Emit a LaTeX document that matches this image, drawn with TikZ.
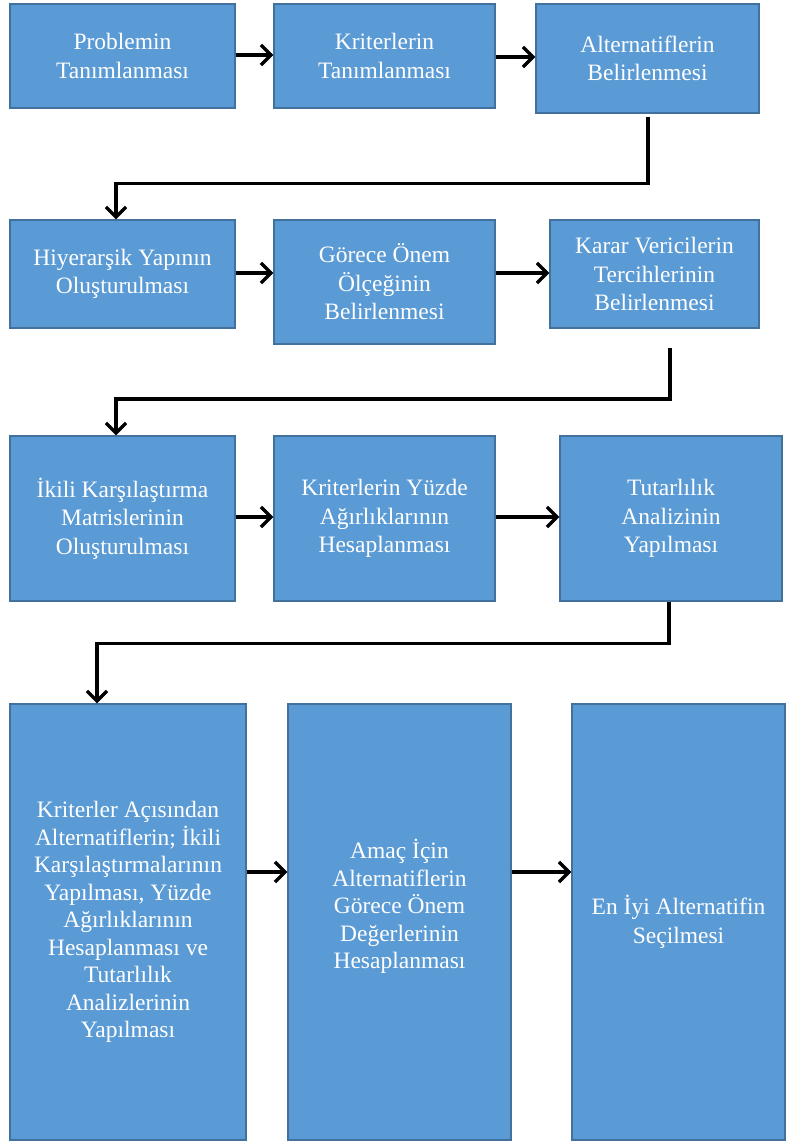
\documentclass[tikz,border=0pt]{standalone}
\usepackage{fontspec}
\setmainfont{Liberation Serif}
\usetikzlibrary{arrows.meta,calc}
\definecolor{boxfill}{HTML}{5B9BD5}
\definecolor{boxline}{HTML}{41719C}
\newcommand{\lift}[2]{\raisebox{#1}[\height][\depth]{#2}}
\begin{document}
\begin{tikzpicture}[x=1pt,y=-1pt,
  flowbox/.style={rectangle, fill=boxfill, draw=boxline, line width=1.3pt,
    inner sep=0pt, text=white, align=center,
    font=\fontsize{23.5}{28.5}\selectfont},
  arr/.style={line width=3.4pt, -{Straight Barb[length=10pt,width=20pt]}},
  link/.style={line width=3.4pt}]
\useasboundingbox (0,0) rectangle (785,1143);

\node[flowbox, minimum width=225pt, minimum height=104pt] (b1) at (122.5,56) {Problemin\\Tanımlanması};
\node[flowbox, minimum width=221pt, minimum height=104pt] (b2) at (384.5,56) {Kriterlerin\\Tanımlanması};
\node[flowbox, minimum width=223pt, minimum height=109pt] (b3) at (647.5,58.5) {Alternatiflerin\\Belirlenmesi};

\node[flowbox, minimum width=225pt, minimum height=108pt] (b4) at (122.5,274) {Hiyerarşik Yapının\\Oluşturulması};
\node[flowbox, minimum width=221pt, minimum height=124pt] (b5) at (384.5,282) {Görece Önem\\Ölçeğinin\\Belirlenmesi};
\node[flowbox, minimum width=209pt, minimum height=108pt] (b6) at (654.5,274) {Karar Vericilerin\\Tercihlerinin\\Belirlenmesi};

\node[flowbox, minimum width=225pt, minimum height=165pt] (b7) at (122.5,518.5) {İkili Karşılaştırma\\Matrislerinin\\Oluşturulması};
\node[flowbox, minimum width=221pt, minimum height=165pt] (b8) at (384.5,518.5) {Kriterlerin Yüzde\\Ağırlıklarının\\Hesaplanması};
\node[flowbox, minimum width=222pt, minimum height=165pt] (b9) at (671,518.5) {Tutarlılık\\Analizinin\\Yapılması};

\node[flowbox, minimum width=236pt, minimum height=436pt, font=\fontsize{23.5}{27.5}\selectfont] (b10) at (128,922) {Kriterler Açısından\\Alternatiflerin; İkili\\Karşılaştırmalarının\\Yapılması, Yüzde\\Ağırlıklarının\\Hesaplanması ve\\Tutarlılık\\Analizlerinin\\Yapılması};
\node[flowbox, minimum width=223pt, minimum height=436pt, font=\fontsize{23.5}{27.5}\selectfont] (b11) at (399.5,922) {\lift{14pt}{\begin{tabular}{@{}c@{}}Amaç İçin\\Alternatiflerin\\Görece Önem\\Değerlerinin\\Hesaplanması\end{tabular}}};
\node[flowbox, minimum width=213pt, minimum height=436pt] (b12) at (678.5,922) {En İyi Alternatifin\\Seçilmesi};

% horizontal arrows
\draw[arr] (b1.east |- 0,55) -- (b2.west |- 0,55);
\draw[arr] (b2.east |- 0,57) -- (b3.west |- 0,57);
\draw[arr] (b4.east |- 0,273) -- (b5.west |- 0,273);
\draw[arr] (b5.east |- 0,273) -- (b6.west |- 0,273);
\draw[arr] (b7.east |- 0,517) -- (b8.west |- 0,517);
\draw[arr] (b8.east |- 0,517) -- (b9.west |- 0,517);
\draw[arr] (b10.east |- 0,872) -- (b11.west |- 0,872);
\draw[arr] (b11.east |- 0,872) -- (b12.west |- 0,872);

% row connectors
\coordinate (c1) at ($(b3.south)+(0.5,3)$);
\draw[arr] (c1) -- ++(0,67) -| ([xshift=-6.5pt]b4.north);
\coordinate (c2) at (670,348);
\draw[arr] (c2) -- ++(0,51) -| ([xshift=-6.5pt]b7.north);
\coordinate (c3) at ($(b9.south)+(-2,0)$);
\draw[arr] (c3) -- ++(0,42) -| ([xshift=-31pt]b10.north);
\end{tikzpicture}
\end{document}
